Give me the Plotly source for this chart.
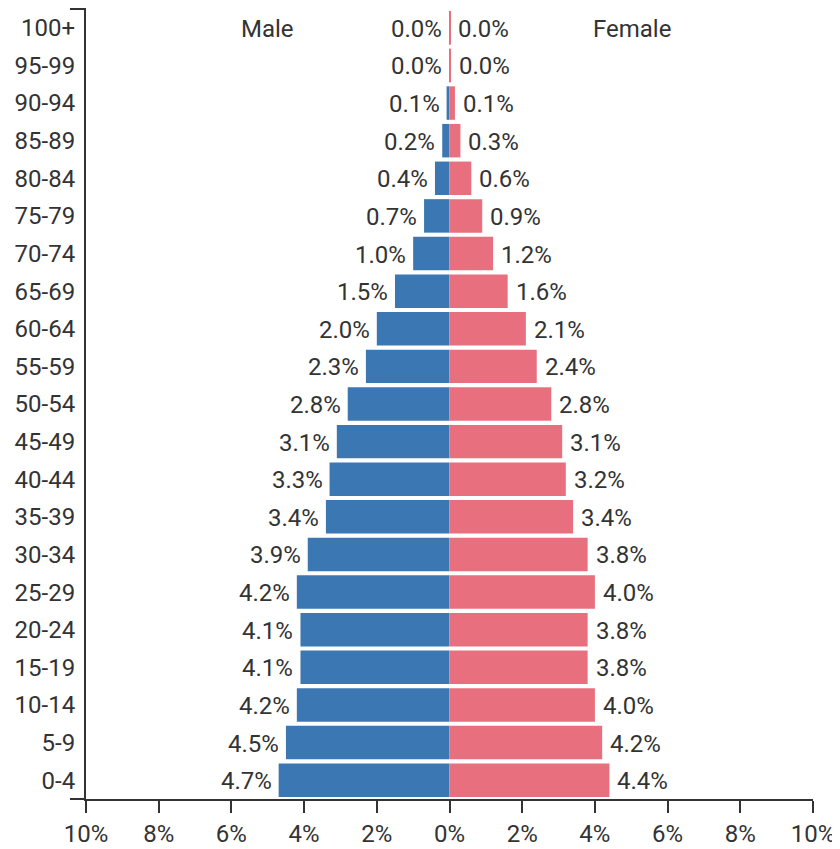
import plotly.graph_objects as go

age_groups = ["100+", "95-99", "90-94", "85-89", "80-84", "75-79", "70-74", "65-69",
              "60-64", "55-59", "50-54", "45-49", "40-44", "35-39", "30-34", "25-29",
              "20-24", "15-19", "10-14", "5-9", "0-4"]
male_pct = [0.004, 0.004, 0.08, 0.2, 0.4, 0.7, 1.0, 1.5, 2.0, 2.3, 2.8, 3.1, 3.3, 3.4,
            3.9, 4.2, 4.1, 4.1, 4.2, 4.5, 4.7]
female_pct = [0.02, 0.03, 0.15, 0.3, 0.6, 0.9, 1.2, 1.6, 2.1, 2.4, 2.8, 3.1, 3.2, 3.4,
              3.8, 4.0, 3.8, 3.8, 4.0, 4.2, 4.4]
male_labels = ["0.0%", "0.0%", "0.1%", "0.2%", "0.4%", "0.7%", "1.0%", "1.5%", "2.0%",
               "2.3%", "2.8%", "3.1%", "3.3%", "3.4%", "3.9%", "4.2%", "4.1%", "4.1%",
               "4.2%", "4.5%", "4.7%"]
female_labels = ["0.0%", "0.0%", "0.1%", "0.3%", "0.6%", "0.9%", "1.2%", "1.6%", "2.1%",
                 "2.4%", "2.8%", "3.1%", "3.2%", "3.4%", "3.8%", "4.0%", "3.8%", "3.8%",
                 "4.0%", "4.2%", "4.4%"]
tick_vals = [-10, -8, -6, -4, -2, 0, 2, 4, 6, 8, 10]
tick_text = ["10%", "8%", "6%", "4%", "2%", "0%", "2%", "4%", "6%", "8%", "10%"]

MALE_COLOR = "#3b78b3"
FEMALE_COLOR = "#e8707e"
TEXT_COLOR = "#333333"
FONT = "Roboto, Arial, sans-serif"
FS = 24

fig = go.Figure()
fig.add_trace(go.Bar(
    y=age_groups, x=[-v for v in male_pct], orientation="h",
    marker=dict(color=MALE_COLOR, line=dict(width=0)),
    name="Male", hoverinfo="skip",
))
fig.add_trace(go.Bar(
    y=age_groups, x=female_pct, orientation="h",
    marker=dict(color=FEMALE_COLOR, line=dict(width=0)),
    name="Female", hoverinfo="skip",
))

for age, v, lab in zip(age_groups, male_pct, male_labels):
    fig.add_annotation(x=-v, y=age, xref="x", yref="y", text=lab, showarrow=False,
                       xanchor="right", xshift=-5, yshift=-1,
                       font=dict(size=FS, color=TEXT_COLOR, family=FONT))
for age, v, lab in zip(age_groups, female_pct, female_labels):
    fig.add_annotation(x=v, y=age, xref="x", yref="y", text=lab, showarrow=False,
                       xanchor="left", xshift=6, yshift=-1,
                       font=dict(size=FS, color=TEXT_COLOR, family=FONT))

fig.add_annotation(x=-5.0, y="100+", xref="x", yref="y", text="Male", showarrow=False,
                   yshift=-1, font=dict(size=FS, color=TEXT_COLOR, family=FONT))
fig.add_annotation(x=5.02, y="100+", xref="x", yref="y", text="Female", showarrow=False,
                   yshift=-1, font=dict(size=FS, color=TEXT_COLOR, family=FONT))

# small tick marks at the outer ends of the y axis
fig.add_shape(type="line", xref="paper", yref="paper", x0=-0.022, x1=0, y0=1, y1=1,
              line=dict(color=TEXT_COLOR, width=2))
fig.add_shape(type="line", xref="paper", yref="paper", x0=-0.022, x1=0, y0=0, y1=0,
              line=dict(color=TEXT_COLOR, width=2))

# page body has an 8px margin, so the figure is sized to the remaining area
fig.update_layout(
    width=832, height=841,
    margin=dict(l=78, r=27, t=1, b=48),
    paper_bgcolor="white", plot_bgcolor="white",
    barmode="overlay", bargap=0.11,
    showlegend=False,
    font=dict(family=FONT, size=FS, color=TEXT_COLOR),
    xaxis=dict(range=[-10, 10], tickvals=tick_vals, ticktext=tick_text,
               showgrid=False, zeroline=False, showline=True, linecolor=TEXT_COLOR,
               linewidth=2, ticks="outside", ticklen=12, tickwidth=2, tickcolor=TEXT_COLOR,
               tickfont=dict(size=FS, color=TEXT_COLOR, family=FONT), fixedrange=True),
    yaxis=dict(autorange="reversed", showgrid=False, zeroline=False, showline=True,
               linecolor=TEXT_COLOR, linewidth=2, ticks="",
               tickfont=dict(size=FS, color=TEXT_COLOR, family=FONT), ticklabelstandoff=4,
               fixedrange=True),
)

fig.write_html("out.html")
